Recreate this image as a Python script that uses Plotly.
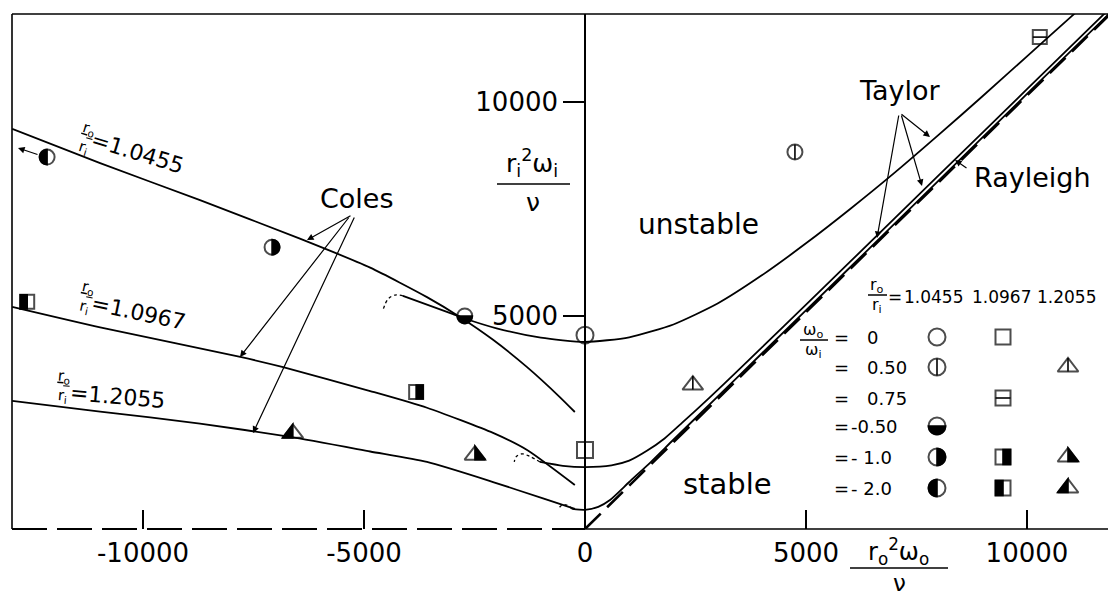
import numpy as np
import plotly.graph_objects as go

# ---------------- data ----------------
# Taylor neutral-stability curves (solid) for r_o/r_i = 1.0455, 1.0967, 1.2055
taylor_10455_x = [-4120, -3000, -2720, -2000, -1000, 0, 1000, 2000, 3000, 4000, 5000, 6000, 7000, 8000, 9000, 10000, 11000, 11500]
taylor_10455_y = [5460, 5040, 4930, 4700, 4480, 4380, 4490, 4790, 5280, 5940, 6690, 7495, 8340, 9230, 10140, 11070, 12000, 12460]
taylor_10967_x = [-1020, -500, 0, 600, 1000, 1400, 1800, 2200, 2800, 3500, 4500, 6000, 8000, 10000, 12000]
taylor_10967_y = [1570, 1480, 1450, 1490, 1600, 1830, 2120, 2490, 3060, 3750, 4750, 6260, 8280, 10300, 12320]
taylor_12055_x = [-290, 0, 300, 566, 1000, 1500, 2000, 3000, 4000, 6000, 8000, 10000, 12000]
taylor_12055_y = [470, 450, 520, 680, 1100, 1580, 2090, 3100, 4110, 6130, 8160, 10190, 12210]

# dashed continuations ("hooks") of the Taylor curves
hook_10455_x = [-4120, -4300, -4460, -4570]
hook_10455_y = [5460, 5480, 5380, 5130]
hook_10967_x = [-1020, -1250, -1430, -1560, -1600]
hook_10967_y = [1570, 1700, 1760, 1690, 1570]
hook_12055_x = [-290, -410, -520, -590]
hook_12055_y = [470, 560, 560, 490]

# Coles curves
coles_10455_x = [-12960, -10970, -8710, -6450, -4860, -3575, -2830, -2080, -1310, -570, -230]
coles_10455_y = [9370, 8570, 7700, 6800, 6120, 5430, 4965, 4430, 3790, 3090, 2740]
coles_10967_x = [-12960, -10970, -7800, -6830, -4860, -3575, -2080, -1310, -230]
coles_10967_y = [5200, 4720, 4030, 3790, 3230, 2840, 2250, 1850, 1030]
coles_12055_x = [-12960, -10970, -8710, -6670, -4860, -3575, -2080, -950, -230]
coles_12055_y = [3000, 2750, 2470, 2155, 1815, 1570, 1100, 715, 470]

# Rayleigh line
rayleigh_x = [0, 11900]
rayleigh_y = [0, 12080]

# experimental points
pts_x = [0, 0, 4750, 2440, 10290, -2720, -7080, -12170, -3820, -12620, -2490, -6610]
pts_y = [4540, 1850, 8830, 3370, 11520, 4990, 6600, 8710, 3210, 5320, 1730, 2240]
pts_kind = ['circle', 'square', 'circle-v', 'triangle-v', 'square-h', 'circle-bottom',
            'circle-right', 'circle-left', 'square-right', 'square-left',
            'triangle-right', 'triangle-left']

# axis ticks
x_ticks = [-10000, -5000, 0, 5000, 10000]
x_ticktext = ['-10000', '-5000', '0', '5000', '10000']
y_ticks = [5000, 10000]
y_ticktext = ['5000', '10000']

# legend table
legend_ratios = ['1.0455', '1.0967', '1.2055']
legend_omega = ['0', '0.50', '0.75', '-0.50', '- 1.0', '- 2.0']
legend_kinds = [
    ['circle', 'square', None],
    ['circle-v', None, 'triangle-v'],
    [None, 'square-h', None],
    ['circle-bottom', None, None],
    ['circle-right', 'square-right', 'triangle-right'],
    ['circle-left', 'square-left', 'triangle-left'],
]

# ---------------- layout geometry ----------------
W, H = 1108, 600
PL, PR, PT, PB = 12, 1108, 14, 529          # plot area in pixels
X_RANGE = [-12964, 11833]
Y_RANGE = [0, 12061]
FONT = 'DejaVu Sans'


def paper_x(px):
    return (px - PL) / (PR - PL)


def paper_y(py):
    return (PB - py) / (PB - PT)


fig = go.Figure()

solid = dict(color='black', width=1.8)
for xs, ys in [(taylor_10455_x, taylor_10455_y), (taylor_10967_x, taylor_10967_y),
               (taylor_12055_x, taylor_12055_y), (coles_10455_x, coles_10455_y),
               (coles_10967_x, coles_10967_y), (coles_12055_x, coles_12055_y)]:
    fig.add_trace(go.Scatter(x=xs, y=ys, mode='lines', line=dict(shape='spline', smoothing=0.6, **solid),
                             hoverinfo='skip'))
for xs, ys in [(hook_10455_x, hook_10455_y), (hook_10967_x, hook_10967_y), (hook_12055_x, hook_12055_y)]:
    fig.add_trace(go.Scatter(x=xs, y=ys, mode='lines',
                             line=dict(color='black', width=1.3, dash='3px,3px', shape='spline'),
                             hoverinfo='skip'))
fig.add_trace(go.Scatter(x=rayleigh_x, y=rayleigh_y, mode='lines',
                         line=dict(color='black', width=2.6, dash='22px,9px'), hoverinfo='skip'))

BASE = {'circle': 'circle-open', 'square': 'square-open', 'triangle': 'triangle-up-open'}


def base_of(kind):
    return kind.split('-')[0]


def fill_path(kind, size):
    r = size / 2.0
    base = base_of(kind)
    mod = kind.split('-')[1] if '-' in kind else ''
    if base == 'circle':
        if mod in ('right', 'left', 'bottom'):
            a0, a1 = {'right': (-90, 90), 'left': (90, 270), 'bottom': (180, 360)}[mod]
            th = np.radians(np.linspace(a0, a1, 25))
            pts = [(r * np.cos(t), r * np.sin(t)) for t in th]
            return 'M ' + ' L '.join(f'{px:.2f},{py:.2f}' for px, py in pts) + ' Z', True
        if mod == 'v':
            return f'M 0,{r:.2f} L 0,{-r:.2f}', False
    if base == 'square':
        if mod == 'right':
            return f'M 0,{r} L {r},{r} L {r},{-r} L 0,{-r} Z', True
        if mod == 'left':
            return f'M 0,{r} L {-r},{r} L {-r},{-r} L 0,{-r} Z', True
        if mod == 'h':
            return f'M {-r},0 L {r},0', False
    if base == 'triangle':
        rt = 2 * r / np.sqrt(3)
        if mod == 'right':
            return f'M 0,{r:.2f} L {rt:.2f},{-r/2:.2f} L 0,{-r/2:.2f} Z', True
        if mod == 'left':
            return f'M 0,{r:.2f} L {-rt:.2f},{-r/2:.2f} L 0,{-r/2:.2f} Z', True
        if mod == 'v':
            return f'M 0,{r:.2f} L 0,{-r/2:.2f}', False
    return None, False


SIZES = {'circle': 15, 'square': 14, 'triangle': 18}
shapes = []


def add_points(xs, ys, kinds, xref, yref, big=None):
    for base in ['circle', 'square', 'triangle']:
        sel = [i for i, k in enumerate(kinds) if base_of(k) == base]
        if not sel:
            continue
        sizes = [(big or {}).get(i, SIZES[base]) for i in sel]
        fig.add_trace(go.Scatter(x=[xs[i] for i in sel], y=[ys[i] for i in sel], mode='markers',
                                 xaxis=xref, yaxis=yref,
                                 marker=dict(symbol=BASE[base], size=sizes, color='black',
                                             line=dict(color='black', width=2)),
                                 hoverinfo='skip'))
        for i, s in zip(sel, sizes):
            path, filled = fill_path(kinds[i], s)
            if path is None:
                continue
            shapes.append(dict(type='path', path=path, xref=xref, yref=yref,
                               xsizemode='pixel', ysizemode='pixel',
                               xanchor=xs[i], yanchor=ys[i], layer='above',
                               fillcolor='black' if filled else 'rgba(0,0,0,0)',
                               line=dict(color='black', width=1.6)))


add_points(pts_x, pts_y, pts_kind, 'x', 'y', big={0: 17, 1: 16})

# legend table symbols (pixel coordinates on overlay axes)
col_px = [937, 1003, 1068]
row_py = [337, 367, 398, 426, 457, 488]
lx, ly, lk = [], [], []
for r, row in enumerate(legend_kinds):
    for c, k in enumerate(row):
        if k:
            lx.append(col_px[c]); ly.append(row_py[r]); lk.append(k)
add_points(lx, ly, lk, 'x2', 'y2',
           big={i: (17 if base_of(k) == 'circle' else 15 if base_of(k) == 'square' else 18) for i, k in enumerate(lk)})

# frame and x axis line
shapes += [
    dict(type='line', xref='paper', yref='paper', x0=0, x1=0, y0=0, y1=1, line=dict(color='black', width=1.6)),
    dict(type='line', xref='paper', yref='paper', x0=0, x1=1, y0=1, y1=1, line=dict(color='black', width=1.3)),
    dict(type='line', xref='paper', yref='paper', x0=0, x1=paper_x(585), y0=0, y1=0,
         line=dict(color='black', width=2, dash='35px,10px')),
    dict(type='line', xref='paper', yref='paper', x0=paper_x(585), x1=1, y0=0, y1=0,
         line=dict(color='black', width=1.5)),
]

ann = []


def txt(px, py, text, size=26, angle=0, xanchor='center'):
    ann.append(dict(x=paper_x(px), y=paper_y(py), xref='paper', yref='paper', text=text, showarrow=False,
                    font=dict(family=FONT, size=size, color='black'), textangle=angle,
                    xanchor=xanchor, yanchor='middle'))


def arrow(hx, hy, tx, ty):
    ann.append(dict(x=paper_x(hx), y=paper_y(hy), xref='paper', yref='paper',
                    ax=tx - hx, ay=ty - hy, axref='pixel', ayref='pixel',
                    text='', showarrow=True, arrowhead=2, arrowsize=1.1, arrowwidth=1.2,
                    arrowcolor='black'))


def frac_bar(x0, x1, py):
    shapes.append(dict(type='line', xref='paper', yref='paper', x0=paper_x(x0), x1=paper_x(x1),
                       y0=paper_y(py), y1=paper_y(py), line=dict(color='black', width=1.5)))


# region labels
txt(900, 90, 'Taylor', 27)
txt(357, 198, 'Coles', 27)
txt(1032, 177, 'Rayleigh', 27)
txt(698, 224, 'unstable', 28)
txt(727, 484, 'stable', 29)

# Taylor arrows
arrow(930, 137, 900, 113)
arrow(922, 186, 901, 114)
arrow(877, 238, 899, 114)
# Coles arrows
arrow(307, 240, 352, 215)
arrow(240, 357, 350, 216)
arrow(253, 433, 355, 216)
# Rayleigh arrow
arrow(955, 160, 968, 169)
# off-scale arrow
arrow(18, 148, 39, 155)

# rotated ratio labels on Coles curves
for (fx, fy, ex, ey, ang, val) in [(86, 138, 137, 152, 17, '1.0455'),
                                   (86, 297, 138, 312, 12, '1.0967'),
                                   (63, 386, 117, 396, 5, '1.2055')]:
    txt(fx, fy, '<u>r<sub>o</sub></u><br>r<sub>i</sub>', 15, ang)
    txt(ex, ey, '=' + val, 22, ang)

# axis titles as fractions
txt(532, 163, 'r<sub>i</sub><sup>2</sup>ω<sub>i</sub>', 25)
frac_bar(497, 570, 184)
txt(533, 202, 'ν', 25)
txt(898, 551, 'r<sub>o</sub><sup>2</sup>ω<sub>o</sub>', 24)
frac_bar(850, 948, 568)
txt(899, 583, 'ν', 23)

# legend table text
txt(877, 286, 'r<sub>o</sub>', 16)
frac_bar(868, 887, 295)
txt(877, 305, 'r<sub>i</sub>', 16)
txt(895, 297, '=', 17)
for cx, v in zip([933, 1001, 1066], legend_ratios):
    txt(cx, 297, v, 17)
txt(813, 330, 'ω<sub>o</sub>', 16)
frac_bar(800, 828, 340)
txt(813, 350, 'ω<sub>i</sub>', 16)
for py, v in zip(row_py, legend_omega):
    txt(841, py, '=', 18)
    txt(865 if not v.startswith('-') else 849, py, v, 18, xanchor='left')

fig.update_layout(
    width=W, height=H, margin=dict(l=PL, r=W - PR, t=PT, b=H - PB),
    paper_bgcolor='white', plot_bgcolor='white', showlegend=False,
    font=dict(family=FONT, color='black'),
    xaxis=dict(range=X_RANGE, showline=False, showgrid=False, zeroline=False,
               ticks='inside', ticklen=19, tickwidth=1.5, tickcolor='black',
               tickvals=x_ticks, ticktext=x_ticktext, tickfont=dict(family=FONT, size=26, color='black'),
               ticklabelstandoff=6, anchor='y'),
    yaxis=dict(range=Y_RANGE, anchor='free', position=paper_x(585), side='left',
               showline=True, linecolor='black', linewidth=1.5, showgrid=False, zeroline=False,
               ticks='outside', ticklen=21, tickwidth=1.5, tickcolor='black',
               tickvals=y_ticks, ticktext=y_ticktext, tickfont=dict(family=FONT, size=26, color='black')),
    xaxis2=dict(range=[PL, PR], overlaying='x', visible=False, anchor='y2'),
    yaxis2=dict(range=[PB, PT], overlaying='y', visible=False, anchor='x2'),
    shapes=shapes, annotations=ann,
)

fig.write_html('out.html')
